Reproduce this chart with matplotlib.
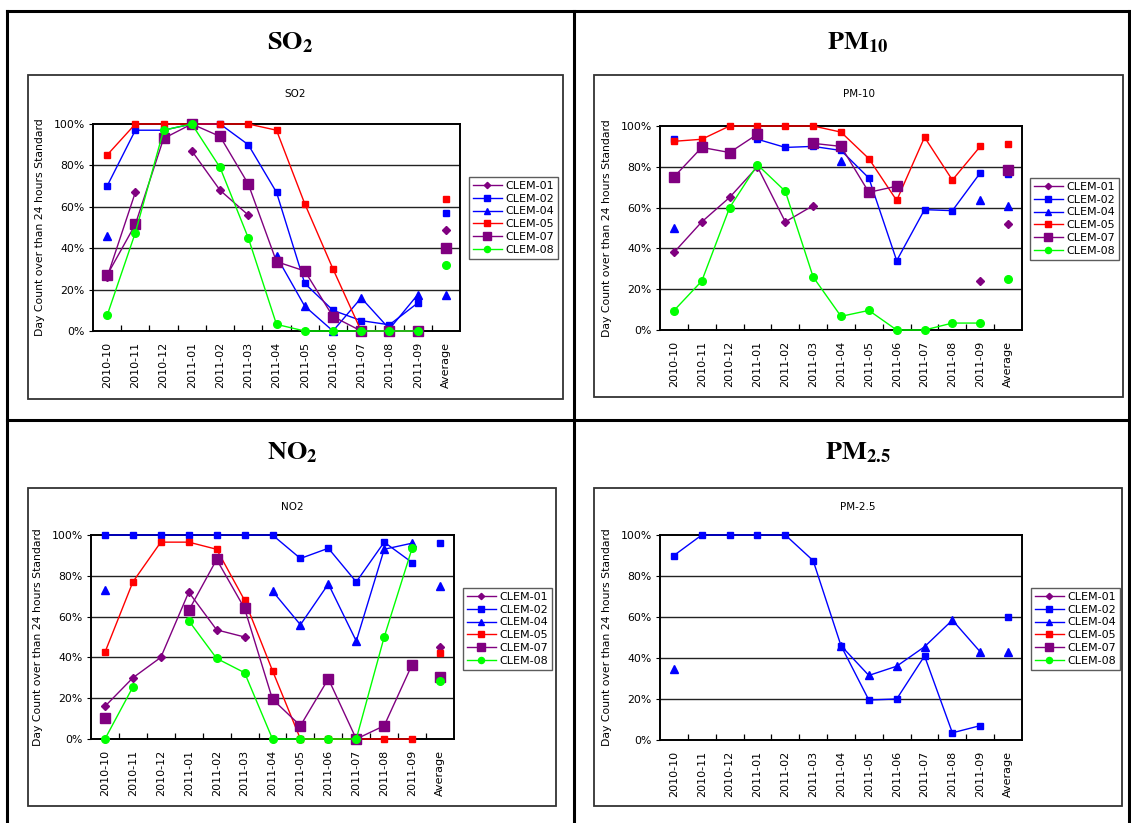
import numpy as np
import matplotlib
matplotlib.use("Agg")
import matplotlib.pyplot as plt
from matplotlib.patches import Rectangle
from matplotlib.lines import Line2D

plt.rcParams['font.family'] = ['DejaVu Sans']
plt.rcParams['mathtext.fontset'] = 'stix'

n = np.nan
categories = ['2010-10', '2010-11', '2010-12', '2011-01', '2011-02', '2011-03',
              '2011-04', '2011-05', '2011-06', '2011-07', '2011-08', '2011-09', 'Average']
stations = ['CLEM-01', 'CLEM-02', 'CLEM-04', 'CLEM-05', 'CLEM-07', 'CLEM-08']

# ---- SO2 (percent; last value = Average) ----
so2_clem01 = [26, 67, n, 87, 68, 56, n, n, n, n, n, n, 49]
so2_clem02 = [70, 97, 97, 100, 100, 90, 67, 23, 10, 5, 3, 13.5, 57]
so2_clem04 = [46, n, n, n, n, n, 36, 12, 0, 16, 1, 17.5, 17.5]
so2_clem05 = [85, 100, 100, 100, 100, 100, 97, 61.5, 30, 0, 0, 0, 64]
so2_clem07 = [27, 51.5, 93, 100, 94, 71, 33.5, 29, 7, 0, 0, 0, 40]
so2_clem08 = [7.5, 47.5, 97, 100, 79, 45, 3.2, 0, 0, 0, 0, 0, 32]

# ---- PM-10 ----
pm10_clem01 = [38, 53, 65, 80, 53, 61, n, n, n, n, n, 24, 52]
pm10_clem02 = [93.5, n, n, 93.5, 89.5, 90, 88, 74.5, 34, 59, 58.5, 77, 76.5]
pm10_clem04 = [50, n, n, n, n, n, 83, n, n, n, n, 63.5, 61]
pm10_clem05 = [92.5, 93.5, 100, 100, 100, 100, 97, 84, 63.5, 94.5, 73.5, 90, 91]
pm10_clem07 = [75, 89.5, 87, 96, n, 91.5, 90, 67.5, 70.5, n, n, n, 78.5]
pm10_clem08 = [9.5, 24, 60, 81, 68, 26, 6.7, 9.6, 0, 0, 3.4, 3.4, 25]

# ---- NO2 ----
no2_clem01 = [16, 30, 40, 72, 53.5, 50, n, n, n, n, n, n, 45]
no2_clem02 = [100, 100, 100, 100, 100, 100, 100, 88.5, 93.5, 77, 96.5, 86.5, 96]
no2_clem04 = [73, n, n, n, n, n, 72.5, 56, 76, 48, 93, 96, 75]
no2_clem05 = [42.5, 77, 96.5, 96.5, 93, 68, 33.5, 0, 0, 0, 0, 0, 42]
no2_clem07 = [10.5, n, n, 63, 88, 64, 19.5, 6.5, 29.5, 0, 6.5, 36.5, 30.5]
no2_clem08 = [0, 25.5, n, 58, 39.5, 32.5, 0, 0, 0, 0, 50, 93.5, 28.5]

# ---- PM-2.5 ----
pm25_clem01 = [n] * 13
pm25_clem02 = [90, 100, 100, 100, 100, 87.5, 46, 19.5, 20, 41, 3.5, 7, 60]
pm25_clem04 = [34.5, n, n, n, n, n, 46, 31.5, 36, 45.5, 58.5, 43, 43]
pm25_clem05 = [n] * 13
pm25_clem07 = [n] * 13
pm25_clem08 = [n] * 13

panels = [
    dict(big=r'$\mathbf{SO_2}$', small='SO2',
         data=[so2_clem01, so2_clem02, so2_clem04, so2_clem05, so2_clem07, so2_clem08],
         tx=290, ty=42, box=(28, 75, 563, 399), plot=(93, 124, 460, 331), leg=(469, 177)),
    dict(big=r'$\mathbf{PM_{10}}$', small='PM-10',
         data=[pm10_clem01, pm10_clem02, pm10_clem04, pm10_clem05, pm10_clem07, pm10_clem08],
         tx=858, ty=42, box=(594, 75, 1123, 397), plot=(660, 126, 1022, 330), leg=(1030, 178)),
    dict(big=r'$\mathbf{NO_2}$', small='NO2',
         data=[no2_clem01, no2_clem02, no2_clem04, no2_clem05, no2_clem07, no2_clem08],
         tx=292, ty=452, box=(28, 488, 556, 806), plot=(91, 535, 454, 739), leg=(463, 588)),
    dict(big=r'$\mathbf{PM_{2.5}}$', small='PM-2.5',
         data=[pm25_clem01, pm25_clem02, pm25_clem04, pm25_clem05, pm25_clem07, pm25_clem08],
         tx=858, ty=452, box=(594, 488, 1122, 806), plot=(660, 535, 1022, 740), leg=(1031, 588)),
]

styles = [
    dict(color='#800080', marker='D', ms=4.0),
    dict(color='#0000FF', marker='s', ms=5.0),
    dict(color='#0000FF', marker='^', ms=5.5),
    dict(color='#FF0000', marker='s', ms=5.0),
    dict(color='#800080', marker='s', ms=7.0),
    dict(color='#00FF00', marker='o', ms=5.5),
]

W, H = 1131, 823
fig = plt.figure(figsize=(W / 100, H / 100), dpi=100)
fig.patch.set_facecolor('white')

def frac(x0, y0, x1, y1):
    return [x0 / W, 1 - y1 / H, (x1 - x0) / W, (y1 - y0) / H]

def fline(xs, ys, lw):
    fig.add_artist(Line2D([v / W for v in xs], [1 - v / H for v in ys],
                          color='black', lw=lw, transform=fig.transFigure))

# outer table frame
fline([7, 1129], [11, 11], 2.2)
fline([7, 7], [11, 823], 2.2)
fline([1129, 1129], [11, 823], 2.2)
fline([574, 574], [11, 823], 2.2)
fline([7, 1129], [420, 420], 2.2)

x = np.arange(len(categories))
for p in panels:
    bx0, by0, bx1, by1 = p['box']
    fig.add_artist(Rectangle((bx0 / W, 1 - by1 / H), (bx1 - bx0) / W, (by1 - by0) / H,
                             fill=False, edgecolor='#333333', lw=1.3,
                             transform=fig.transFigure))
    fig.text(p['tx'] / W, 1 - p['ty'] / H, p['big'], ha='center', va='center', fontsize=19)
    fig.text((bx0 + bx1) / 2 / W, 1 - (by0 + 19) / H, p['small'], ha='center',
             va='center', fontsize=7.5)

    px0, py0, px1, py1 = p['plot']
    ax = fig.add_axes(frac(px0, py0, px1, py1))
    handles = []
    for name, vals, st in zip(stations, p['data'], styles):
        v = np.array(vals, dtype=float)
        h, = ax.plot(x[:12], v[:12], color=st['color'], marker=st['marker'],
                     ms=st['ms'], lw=1.0, label=name, clip_on=False, zorder=3)
        ax.plot([x[12]], [v[12]], color=st['color'], marker=st['marker'],
                ms=st['ms'], lw=0, clip_on=False, zorder=3)
        handles.append(h)
    ax.set_xlim(-0.5, 12.5)
    ax.set_ylim(0, 100)
    ax.set_yticks([0, 20, 40, 60, 80, 100])
    ax.set_yticklabels(['0%', '20%', '40%', '60%', '80%', '100%'], fontsize=7.8)
    for yv in [20, 40, 60, 80]:
        ax.axhline(yv, color='#222222', lw=1.0, zorder=1)
    ax.set_xticks(x)
    ax.set_xticklabels(categories, rotation=90, fontsize=8)
    ax.set_xticks(np.arange(0.5, 12, 1), minor=True)
    ax.tick_params(axis='x', which='major', length=0, pad=8)
    ax.tick_params(axis='x', which='minor', length=4, direction='in', width=0.9)
    ax.tick_params(axis='y', length=3, direction='out', pad=3)
    for s in ax.spines.values():
        s.set_color('black')
        s.set_linewidth(1.4)
    ax.set_ylabel('Day Count over than 24 hours Standard', fontsize=7.8, labelpad=6)
    ax.set_facecolor('white')

    lx, ly = p['leg']
    leg = ax.legend(handles=handles, loc='upper left',
                    bbox_to_anchor=(lx / W, 1 - ly / H), bbox_transform=fig.transFigure,
                    fontsize=8, frameon=True, fancybox=False, borderaxespad=0,
                    handlelength=2.6, handletextpad=0.3, labelspacing=0.25,
                    borderpad=0.35, markerscale=0.8)
    leg.get_frame().set_edgecolor('#333333')
    leg.get_frame().set_linewidth(1.0)

fig.savefig('out.png', dpi=100, facecolor='white')
